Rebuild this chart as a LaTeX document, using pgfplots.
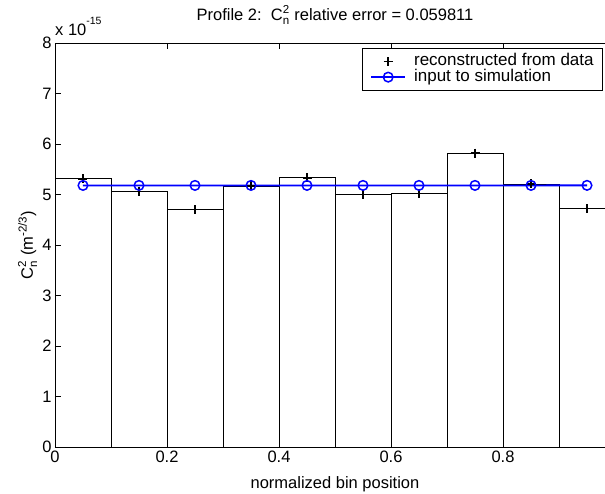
\documentclass[border=0pt]{standalone}
\usepackage{fontspec}
\setmainfont{Liberation Sans}
\usepackage{amsmath}
\usepackage{pgfplots}
\pgfplotsset{compat=1.18}
\newcommand\fs{\fontsize{16.5}{19}\selectfont}
\newcommand\Cn{$\text{C}_{\text{n}}^{\text{2}}$}
\begin{document}
\begin{tikzpicture}
\useasboundingbox (-55pt,-46pt) rectangle (550pt,447pt);
\begin{axis}[
  at={(0pt,0pt)}, anchor=south west,
  scale only axis, width=560pt, height=404pt,
  xmin=0, xmax=1, ymin=0, ymax=8,
  xtick={0,0.2,0.4,0.6,0.8}, ytick={0,1,2,3,4,5,6,7,8},
  tick align=inside, tick pos=both, major tick length=5.7pt,
  axis line style={line width=0.8pt},
  tick style={black, line width=0.8pt},
  /pgf/number format/assume math mode=true,
  ticklabel style={font=\fs},
  clip=false,
  title={Profile 2:\ \ \Cn\ relative error = 0.059811},
  title style={font=\fs, at={(axis description cs:0.5,1)}, anchor=base, yshift=17pt},
  xlabel={normalized bin position},
  xlabel style={font=\fs, at={(axis description cs:0.5,0)}, anchor=center, yshift=-37pt},
  ylabel={\Cn\ (m$^{\text{-2/3}}$)},
  ylabel style={font=\fs, at={(axis description cs:-0.049,0.5)}, anchor=center},
  legend style={font=\fontsize{17}{19}\selectfont, at={(0.9786,0.9868)}, anchor=north east, draw=black,
    line width=0.8pt, inner xsep=8pt, inner ysep=5pt, column sep=7pt,
    nodes={inner sep=1pt, text height=11pt, text depth=2.6pt}},
  legend cell align=left,
  legend image code/.code={\draw[mark repeat=2,mark phase=2,#1] plot coordinates {(0pt,0pt) (17pt,0pt) (34pt,0pt)};},
]
\addplot[ybar, bar width=56pt, bar shift=0pt, draw=black, fill=none, line width=0.7pt, forget plot] coordinates {
  (0.05,5.31) (0.15,5.06) (0.25,4.70) (0.35,5.17) (0.45,5.33) (0.55,5.00) (0.65,5.02) (0.75,5.82) (0.85,5.21) (0.95,4.72)};
\addplot[only marks, black, mark=+, mark size=4.5pt, mark options={line width=1.5pt}] coordinates {
  (0.05,5.31) (0.15,5.06) (0.25,4.70) (0.35,5.17) (0.45,5.33) (0.55,5.00) (0.65,5.02) (0.75,5.82) (0.85,5.21) (0.95,4.72)};
\addplot[blue, line width=1.8pt, mark=o, mark size=4.8pt, mark options={line width=1.5pt}] coordinates {
  (0.05,5.180) (0.15,5.180) (0.25,5.180) (0.35,5.180) (0.45,5.180) (0.55,5.180) (0.65,5.180) (0.75,5.180) (0.85,5.180) (0.95,5.181)};
\legend{reconstructed from data, input to simulation}
\node[anchor=base west, font=\fs, inner sep=0pt] at (rel axis cs:0,1) [yshift=7.3pt] {x 10\raisebox{11.7pt}{\fontsize{10.5}{11}\selectfont -15}};
\end{axis}
\end{tikzpicture}
\end{document}
